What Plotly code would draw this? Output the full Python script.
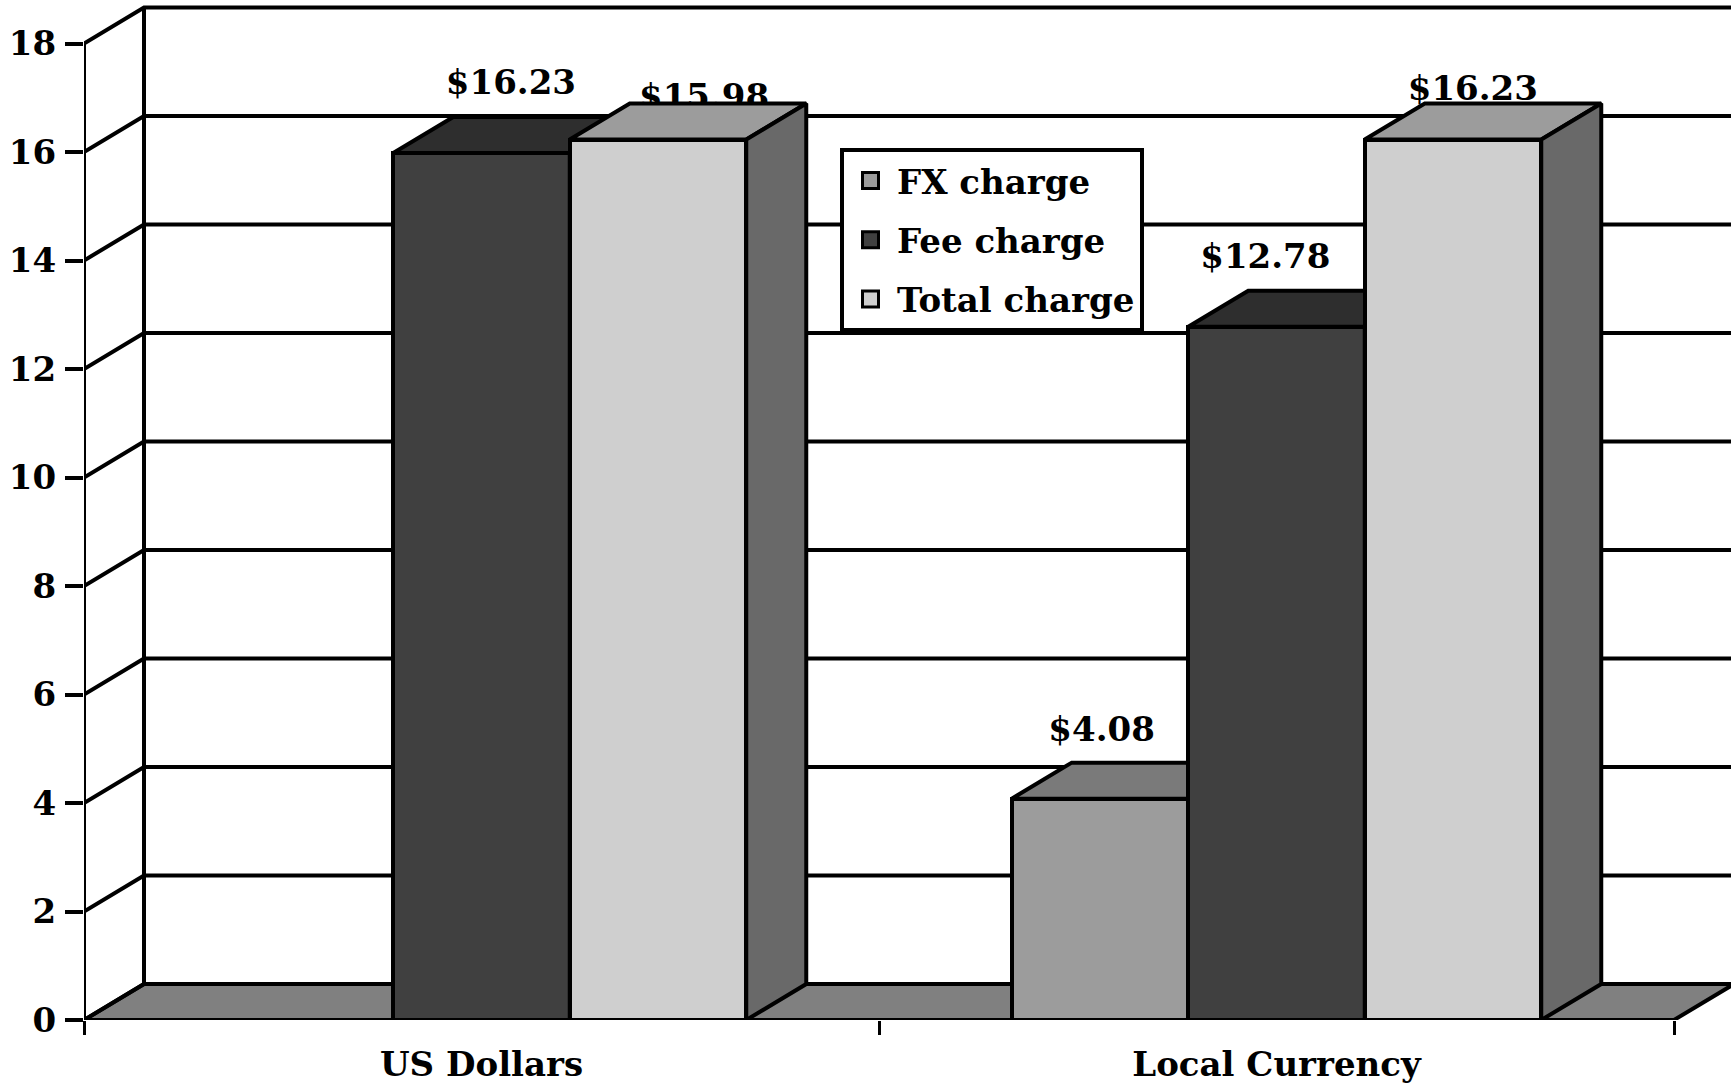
import plotly.graph_objects as go

# ---- data ----
categories = ["US Dollars", "Local Currency"]
group_centres = [0.5, 1.5]
series_names = ["FX charge", "Fee charge", "Total charge"]
fx_charge = [None, 4.08]
fee_charge = [15.98, 12.78]
total_charge = [16.23, 16.23]
y_ticks = [0, 2, 4, 6, 8, 10, 12, 14, 16, 18]

# data labels as printed in the source (value text, x in axis units, y in value units)
fx_labels = [("$4.08", 1.280, 5.30)]
fee_labels = [("$16.23", 0.537, 17.22), ("$15.98", 0.780, 16.97), ("$12.78", 1.486, 14.01)]
total_labels = [("$16.23", 1.747, 17.12)]

# ---- style ----
FONT = "DejaVu Serif"
FS = 34
LW = 4
BLACK = "#000000"
FRONT = ["#9C9C9C", "#404040", "#CFCFCF"]
TOP = ["#7A7A7A", "#2E2E2E", "#9C9C9C"]
SIDE = ["#696969", "#2E2E2E", "#696969"]
FLOOR = "#808080"

Y0_PX = 1020
PX_X = 795.0   # pixels per x unit
PX_Y = 54.25   # pixels per y unit
DX = 60 / PX_X  # oblique depth in axis units
DY = 36 / PX_Y
BAR_W = 176.5 / PX_X
X_MAX = (1731 - 84) / PX_X
Y_MAX = Y0_PX / PX_Y

fig = go.Figure()
lab_font = dict(family=FONT, size=FS, color=BLACK, weight="bold")


def line(xs, ys, ax="", fill=None, fillcolor=None):
    fig.add_trace(go.Scatter(
        x=xs, y=ys, mode="lines", line=dict(color=BLACK, width=LW),
        fill=fill, fillcolor=fillcolor, showlegend=False, hoverinfo="skip",
        cliponaxis=False, xaxis="x" + ax, yaxis="y" + ax))


# back wall, floor and gridlines on the base axes
line([0, DX, 2 + DX, 2, 0], [0, DY, DY, 0, 0], fill="toself", fillcolor=FLOOR)
for t in y_ticks:
    line([0, DX, X_MAX], [t, t + DY, t + DY])
line([DX, DX], [DY, y_ticks[-1] + DY])
line([0, 0], [0, y_ticks[-1]])

# one overlaid axis pair per series, so later series hide earlier ones
all_values = [fx_charge, fee_charge, total_charge]
all_labels = [fx_labels, fee_labels, total_labels]
for i, (name, values, labels) in enumerate(zip(series_names, all_values, all_labels)):
    ax = str(i + 2)
    offset = (i - 1.5) * BAR_W
    fig.add_trace(go.Bar(
        x=group_centres, y=values, name=name, width=BAR_W, offset=offset,
        marker=dict(color=FRONT[i], line=dict(color=BLACK, width=LW)),
        showlegend=False, cliponaxis=False, xaxis="x" + ax, yaxis="y" + ax))
    for c, v in zip(group_centres, values):
        if v is None:
            continue
        l = c + offset
        r = l + BAR_W
        line([l, l + DX, r + DX, r, l], [v, v + DY, v + DY, v, v], ax, "toself", TOP[i])
        line([r, r + DX, r + DX, r, r], [0, DY, v + DY, v, 0], ax, "toself", SIDE[i])
    fig.add_trace(go.Scatter(
        x=[p[1] for p in labels], y=[p[2] for p in labels],
        text=[p[0] for p in labels], mode="text", textposition="middle center",
        textfont=lab_font, showlegend=False, hoverinfo="skip", cliponaxis=False,
        xaxis="x" + ax, yaxis="y" + ax))

# legend entries
for i, name in enumerate(series_names):
    fig.add_trace(go.Scatter(
        x=[None], y=[None], mode="markers", name=name, legendgroup=name,
        marker=dict(symbol="square", size=16, color=FRONT[i],
                    line=dict(color=BLACK, width=3))))

layout = dict(
    width=1731, height=1083, autosize=False,
    margin=dict(l=84, r=0, t=0, b=1083 - Y0_PX, pad=0),
    paper_bgcolor="white", plot_bgcolor="white",
    font=dict(family=FONT, size=FS, color=BLACK, weight="bold"),
    bargap=0,
    xaxis=dict(
        range=[0, X_MAX], tickmode="array", tickvals=group_centres, ticktext=categories,
        ticks="", showline=False, showgrid=False, zeroline=False, ticklabelstandoff=21,
        tickfont=lab_font,
        minor=dict(tickmode="array", tickvals=[0, 1, 2], ticks="outside", ticklen=14,
                   tickwidth=2.5, tickcolor=BLACK, showgrid=False)),
    yaxis=dict(
        range=[0, Y_MAX], tickmode="array", tickvals=y_ticks, ticks="outside", ticklen=18,
        tickwidth=4, tickcolor=BLACK, showline=False, showgrid=False, zeroline=False,
        tickfont=lab_font, ticklabelstandoff=2),
    legend=dict(
        x=(840 - 84) / (1731 - 84), y=(Y0_PX - 148) / Y0_PX, xanchor="left", yanchor="top",
        bgcolor="white", bordercolor=BLACK, borderwidth=4, tracegroupgap=12,
        font=dict(family=FONT, size=34, color=BLACK, weight="bold"),
        itemwidth=43, itemsizing="trace", traceorder="grouped"),
)
for i in range(2, 5):
    layout[f"xaxis{i}"] = dict(overlaying="x", matches="x", visible=False)
    layout[f"yaxis{i}"] = dict(overlaying="y", matches="y", visible=False)
fig.update_layout(**layout)
fig.write_html("out.html", config=dict(displayModeBar=False),
               post_script="document.body.style.margin='0';")
